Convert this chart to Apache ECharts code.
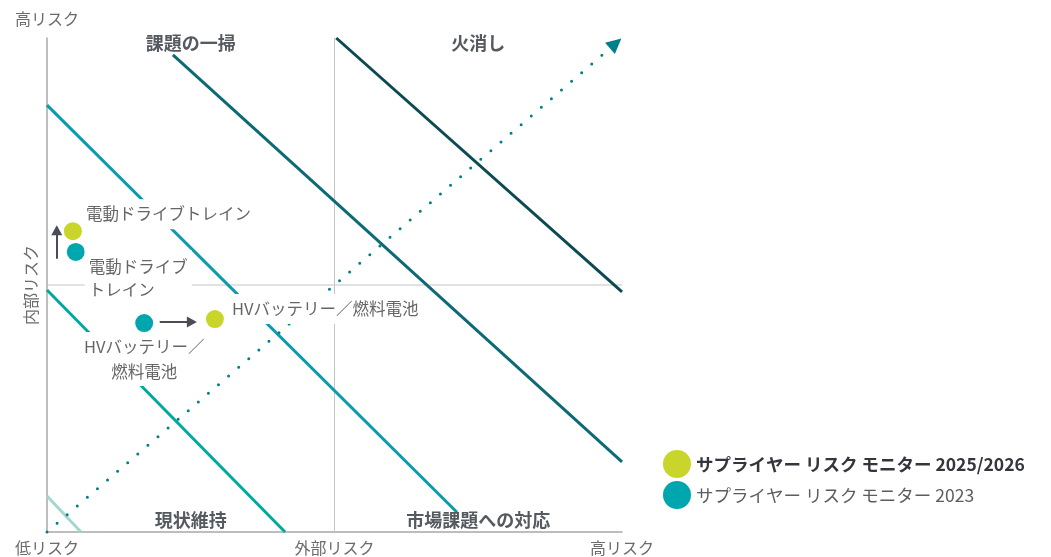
<!DOCTYPE html>
<html><head><meta charset="utf-8">
<script src="https://cdn.jsdelivr.net/npm/echarts@6/dist/echarts.min.js"></script>
<style>html,body{margin:0;padding:0;background:#fff}#c{width:1051px;height:557px}</style>
</head><body><div id="c"></div>
<script>
// ---- data ----
const xTickLabels = {0: '低リスク', 50: '外部リスク', 100: '高リスク'};
const yTopLabel = '高リスク';
const yMidLabel = '内部リスク';
const quadrantNames = ['課題の一掃', '火消し', '現状維持', '市場課題への対応'];
const quadrantPos = [[25, 99], [75, 99], [25, 2.4], [75, 2.4]];
const bandColors = ['#a3d7cf', '#00a99f', '#0a9bae', '#0d6a74', '#0c4a51'];
const bandLines = [
  [[0, 7.3], [5.9, 0]],
  [[0, 49.0], [41.4, 0]],
  [[0, 86.4], [71.3, 4.0]],
  [[21.9, 96.6], [100, 14.2]],
  [[50.3, 100], [100, 48.6]]
];
const midLines = [[[0, 50], [100, 50]], [[50, 0], [50, 100]]];
const trendLine = [[0, 0], [98.9, 98.9]];
const seriesNames = ['サプライヤー リスク モニター 2025/2026', 'サプライヤー リスク モニター 2023'];
const points2025 = [[4.5, 60.9], [29.2, 43.1]];
const labels2025 = ['電動ドライブトレイン', 'HVバッテリー／燃料電池'];
const points2023 = [[5.0, 56.7], [16.9, 42.3]];
const labels2023 = ['電動ドライブ\nトレイン', 'HVバッテリー／\n燃料電池'];
const shiftArrows = [[[1.7, 55.3], [1.7, 61.1]], [[19.6, 42.5], [25.2, 42.5]]];

// ---- styles ----
const FONT = '"Noto Sans CJK JP", "Noto Sans", sans-serif';
const COL2025 = '#c9d52a', COL2023 = '#00a6ad';
const labelBase = {show: true, color: '#666', fontSize: 16.5, fontFamily: FONT, backgroundColor: '#fff', padding: [5, 4], opacity: 1};

const chart = echarts.init(document.getElementById('c'));
const series = [];
bandLines.forEach((l, i) => series.push({
  type: 'line', data: l, symbol: 'none', silent: true, z: 2,
  lineStyle: {color: bandColors[i], width: 3}
}));
midLines.forEach(l => series.push({
  type: 'line', data: l, symbol: 'none', silent: true, z: 1,
  lineStyle: {color: '#c4c4c4', width: 1}
}));
series.push({
  type: 'line', data: [], silent: true, z: 3,
  markLine: {
    silent: true, symbol: ['none', 'triangle'], symbolSize: [15, 15],
    label: {show: false},
    lineStyle: {color: '#007f88', width: 3, type: [0, 13.3], cap: 'round'},
    itemStyle: {color: '#007f88'},
    data: [[{coord: trendLine[0]}, {coord: trendLine[1]}]]
  }
});
series.push({
  type: 'line', data: [], silent: true, z: 4,
  markLine: {
    silent: true, symbol: ['none', 'triangle'], symbolSize: [11, 10],
    label: {show: false},
    lineStyle: {color: '#4a4d55', width: 2, type: 'solid'},
    data: shiftArrows.map(a => [{coord: a[0]}, {coord: a[1]}])
  }
});
// quadrant titles
series.push({
  type: 'scatter', symbolSize: 0, silent: true, z: 6,
  itemStyle: {opacity: 1},
  data: quadrantPos.map((p, i) => ({value: p, name: quadrantNames[i]})),
  label: {show: true, position: 'inside', formatter: '{b}', color: '#555a60', fontSize: 18, fontWeight: 'bold', fontFamily: FONT}
});
const lab25 = [
  {position: 'right', distance: 0, offset: [0, -17], lineHeight: 20},
  {position: 'right', distance: 0, offset: [4, -10], lineHeight: 20}
];
const lab23 = [
  {position: 'right', distance: 0, offset: [0, 26], lineHeight: 23, align: 'left'},
  {position: 'bottom', distance: 0, offset: [0, 0], lineHeight: 25, align: 'center', padding: [2, 4]}
];
series.push({
  name: seriesNames[1], type: 'scatter', symbol: 'circle', symbolSize: 18, z: 10, silent: true,
  itemStyle: {color: COL2023, opacity: 1},
  data: points2023.map((p, i) => ({value: p, name: labels2023[i], label: Object.assign({}, labelBase, lab23[i], {formatter: '{b}'})}))
});
series.push({
  name: seriesNames[0], type: 'scatter', symbol: 'circle', symbolSize: 18, z: 10, silent: true,
  itemStyle: {color: COL2025, opacity: 1},
  data: points2025.map((p, i) => ({value: p, name: labels2025[i], label: Object.assign({}, labelBase, lab25[i], {formatter: '{b}'})}))
});

chart.setOption({
  animation: false,
  grid: {left: 47, right: 429, top: 38, bottom: 25},
  legend: {
    orient: 'vertical', left: 663, top: 450, padding: 0, itemGap: 3, itemWidth: 28, itemHeight: 28,
    icon: 'circle', data: seriesNames, selectedMode: false,
    formatter: n => n === seriesNames[0] ? '{b|' + n + '}' : '{n|' + n + '}',
    textStyle: {
      fontFamily: FONT,
      rich: {
        b: {fontSize: 17.5, fontWeight: 'bold', color: '#33363d', fontFamily: FONT},
        n: {fontSize: 17.5, color: '#5a5d63', fontFamily: FONT}
      }
    }
  },
  xAxis: {
    type: 'value', min: 0, max: 100, interval: 50,
    axisLine: {show: true, lineStyle: {color: '#a8a8a8', width: 1.5}},
    axisTick: {show: false}, splitLine: {show: false},
    axisLabel: {show: true, showMinLabel: true, showMaxLabel: true, margin: 8, color: '#6b6b6b', fontSize: 16, fontFamily: FONT,
      formatter: v => xTickLabels[v] || ''}
  },
  yAxis: {
    type: 'value', min: 0, max: 100, interval: 50,
    name: yTopLabel, nameLocation: 'end', nameGap: 11,
    nameTextStyle: {color: '#6b6b6b', fontSize: 16, fontFamily: FONT},
    axisLine: {show: true, lineStyle: {color: '#a8a8a8', width: 1.5}},
    axisTick: {show: false}, splitLine: {show: false},
    axisLabel: {show: true, rotate: 90, margin: 8, color: '#6b6b6b', fontSize: 16, fontFamily: FONT,
      formatter: v => v === 50 ? yMidLabel : ''}
  },
  series: series
});
</script></body></html>
